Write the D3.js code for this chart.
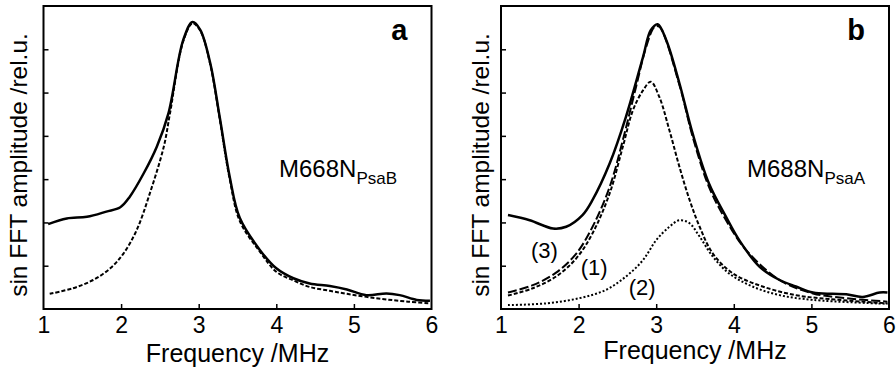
<!DOCTYPE html>
<html>
<head>
<meta charset="utf-8">
<script src="https://cdn.jsdelivr.net/npm/d3@7/dist/d3.min.js"></script>
<style>
  html, body { margin: 0; padding: 0; background: #fff; }
  svg { display: block; font-family: "Liberation Sans", Arial, Helvetica, sans-serif; }
</style>
</head>
<body>
<svg id="chart" width="896" height="370"></svg>
<script>
// Frequency axis ticks (MHz) and amplitude grid ticks (relative units)
const xTicks = [1, 2, 3, 4, 5, 6];
const yTicks = [1, 2, 3, 4, 5, 6];

// Panel a: M668N_PsaB — measured spectrum and Lorentzian fit
const aFreq = [1.06, 1.3, 1.56, 1.81, 1.99, 2.11, 2.29, 2.46, 2.61, 2.8, 2.92, 3.02, 3.15, 3.27, 3.4, 3.53, 3.79, 4.0, 4.22, 4.43, 4.69, 4.91, 5.16, 5.42, 5.59, 5.81, 5.98];
const aMeasured = [1.96, 2.09, 2.13, 2.25, 2.35, 2.59, 3.13, 3.75, 4.52, 6.21, 6.63, 6.45, 5.67, 4.44, 3.05, 2.1, 1.36, 0.94, 0.71, 0.59, 0.53, 0.45, 0.32, 0.36, 0.32, 0.21, 0.19];
const aFitFreq = [1.08, 1.38, 1.64, 1.86, 2.03, 2.2, 2.37, 2.55, 2.63, 2.8, 2.92, 3.02, 3.15, 3.27, 3.4, 3.53, 3.79, 4.0, 4.22, 4.43, 4.69, 4.91, 5.16, 5.42, 5.7, 5.98];
const aFit = [0.35, 0.48, 0.67, 0.94, 1.28, 1.82, 2.67, 3.75, 4.52, 6.18, 6.6, 6.43, 5.64, 4.4, 3.0, 2.03, 1.32, 0.86, 0.66, 0.51, 0.42, 0.35, 0.28, 0.22, 0.17, 0.13];

// Panel b: M688N_PsaA — measured spectrum, components (1), (2) and their sum (3)
const bFreq = [1.09, 1.37, 1.67, 1.84, 2.05, 2.18, 2.4, 2.61, 2.83, 2.93, 3.02, 3.13, 3.3, 3.47, 3.68, 3.9, 4.07, 4.33, 4.59, 4.8, 5.02, 5.27, 5.45, 5.66, 5.88, 5.98];
const bMeasured = [2.17, 2.05, 1.86, 1.9, 2.17, 2.52, 3.36, 4.44, 5.82, 6.44, 6.58, 6.21, 5.21, 4.05, 2.9, 2.13, 1.59, 0.98, 0.67, 0.52, 0.38, 0.35, 0.34, 0.28, 0.38, 0.38];

const sumFreq = [1.09, 1.41, 1.71, 1.97, 2.18, 2.4, 2.57, 2.74, 2.87, 2.98, 3.04, 3.3, 3.47, 3.68, 3.9, 4.16, 4.59, 5.02, 5.45, 5.98];
const sum3 = [0.38, 0.55, 0.84, 1.28, 1.9, 2.82, 3.9, 5.13, 6.05, 6.52, 6.52, 5.17, 3.98, 2.82, 2.05, 1.36, 0.67, 0.36, 0.25, 0.17];

const comp1Freq = [1.09, 1.41, 1.71, 1.97, 2.18, 2.4, 2.57, 2.7, 2.83, 2.93, 3.04, 3.17, 3.3, 3.43, 3.56, 3.73, 3.99, 4.37, 4.8, 5.23, 5.98];
const comp1 = [0.31, 0.48, 0.75, 1.17, 1.75, 2.67, 3.75, 4.59, 5.05, 5.25, 4.9, 4.13, 3.28, 2.52, 1.9, 1.28, 0.82, 0.52, 0.32, 0.23, 0.13];

const comp2Freq = [1.09, 1.58, 2.01, 2.35, 2.61, 2.83, 3.0, 3.17, 3.3, 3.43, 3.56, 3.73, 3.94, 4.24, 4.59, 5.02, 5.98];
const comp2 = [0.09, 0.13, 0.25, 0.44, 0.75, 1.13, 1.59, 1.9, 2.05, 1.98, 1.67, 1.21, 0.82, 0.52, 0.32, 0.21, 0.12];

const svg = d3.select("#chart");

function zip(xs, ys) { return xs.map((x, i) => [x, ys[i]]); }

function panel(opts) {
  const x = d3.scaleLinear().domain([1, 6]).range([opts.left, opts.right]);
  const y = d3.scaleLinear().domain([0, 7]).range([309, 6]);
  const g = svg.append("g");

  const line = d3.line()
    .x(d => x(d[0]))
    .y(d => y(d[1]))
    .curve(d3.curveCatmullRom.alpha(0.5));

  // curves
  opts.series.forEach(s => {
    g.append("path")
      .datum(zip(s.x, s.y))
      .attr("d", line)
      .attr("fill", "none")
      .attr("stroke", "#000")
      .attr("stroke-width", s.width)
      .attr("stroke-dasharray", s.dash || null)
      .attr("stroke-linejoin", "round");
  });

  // frame
  g.append("rect")
    .attr("x", x(1)).attr("y", y(7))
    .attr("width", x(6) - x(1)).attr("height", y(0) - y(7))
    .attr("fill", "none").attr("stroke", "#000").attr("stroke-width", 2);

  // inward x ticks and labels
  const xAxis = d3.axisBottom(x).tickValues(xTicks).tickFormat(d3.format("d"))
    .tickSizeInner(-5).tickSizeOuter(0).tickPadding(8);
  const gx = g.append("g").attr("transform", `translate(0,${y(0)})`).call(xAxis);
  gx.select(".domain").remove();
  gx.selectAll(".tick line").attr("stroke-width", 1.5)
    .filter(d => d === 1 || d === 6).remove();
  gx.selectAll(".tick text")
    .style("font-size", "23px")
    .style("font-family", "'Liberation Sans', Arial, sans-serif")
    .attr("fill", "#000");

  // inward y ticks without labels
  const yAxis = d3.axisLeft(y).tickValues(yTicks).tickSizeInner(-5).tickSizeOuter(0).tickFormat("");
  const gy = g.append("g").attr("transform", `translate(${x(1)},0)`).call(yAxis);
  gy.select(".domain").remove();
  gy.selectAll(".tick line").attr("stroke-width", 1.5);

  // axis titles
  g.append("text")
    .attr("x", (x(1) + x(6)) / 2).attr("y", opts.titleY)
    .attr("text-anchor", "middle").style("font-size", "25px")
    .text("Frequency /MHz");
  g.append("text")
    .attr("transform", `translate(${opts.yLabelX},165) rotate(-90)`)
    .attr("text-anchor", "middle").style("font-size", "24.5px")
    .text("sin FFT amplitude /rel.u.");

  // panel letter
  g.append("text")
    .attr("x", x(6) - 24).attr("y", 40)
    .attr("text-anchor", "end").style("font-size", "29px").attr("font-weight", "bold")
    .text(opts.letter);

  // sample name with subscript
  const t = g.append("text").attr("x", opts.nameX).attr("y", 177).style("font-size", "24px");
  t.append("tspan").text(opts.name);
  t.append("tspan").attr("dy", 7).style("font-size", "17px").text(opts.sub);

  return { g, x, y };
}

panel({
  left: 43.5, right: 431.5, titleY: 362, yLabelX: 27, letter: "a",
  nameX: 279, name: "M668N", sub: "PsaB",
  series: [
    { x: aFitFreq, y: aFit, width: 2, dash: "4,2" },
    { x: aFreq, y: aMeasured, width: 2.5 }
  ]
});

const pb = panel({
  left: 501, right: 889, titleY: 359, yLabelX: 489, letter: "b",
  nameX: 747, name: "M688N", sub: "PsaA",
  series: [
    { x: comp2Freq, y: comp2, width: 2, dash: "2,2" },
    { x: comp1Freq, y: comp1, width: 2, dash: "4,2" },
    { x: sumFreq, y: sum3, width: 2, dash: "9,3" },
    { x: bFreq, y: bMeasured, width: 2.5 }
  ]
});

// component labels in panel b
const compLabels = [
  { text: "(3)", f: 1.56, v: 1.18 },
  { text: "(1)", f: 2.2, v: 0.79 },
  { text: "(2)", f: 2.82, v: 0.33 }
];
pb.g.selectAll("text.comp").data(compLabels).enter().append("text")
  .attr("class", "comp")
  .attr("x", d => pb.x(d.f)).attr("y", d => pb.y(d.v))
  .attr("text-anchor", "middle").style("font-size", "22px")
  .text(d => d.text);
</script>
</body>
</html>
